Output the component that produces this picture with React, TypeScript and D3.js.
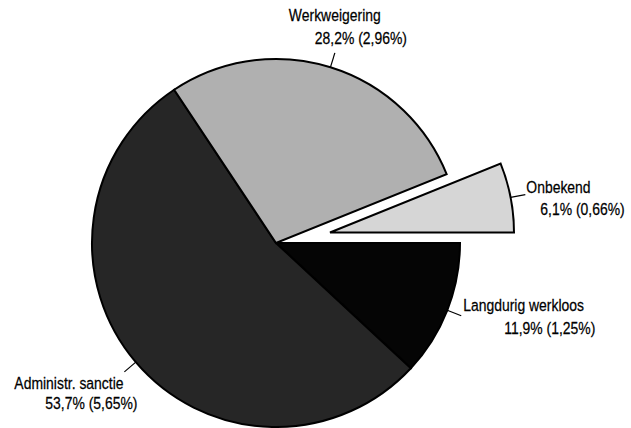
import * as d3 from 'd3';
import { useEffect } from 'react';

// categories, clockwise from 3 o'clock
const categories = ['Langdurig werkloos', 'Administr. sanctie', 'Werkweigering', 'Onbekend'];
const shares = [11.9, 53.7, 28.2, 6.1];
const shareLabels = ['11,9% (1,25%)', '53,7% (5,65%)', '28,2% (2,96%)', '6,1% (0,66%)'];

const fills = ['#050505', '#262626', '#b0b0b0', '#d6d6d6'];
const exploded = [0, 0, 0, 55];
// text offsets from the leader end: [dx1, dy1, dx2, dy2]
const labelOffsets = [
    [2, -5, 43, 18],
    [-110, 17, -79, 37],
    [-46, -32, -20, -9],
    [1, -2, 15, 20],
];

const width = 631;
const height = 428;
const cx = 276;
const cy = 243;
const radius = 184;
const leaderLen = 15;
const squeeze = 0.82; // narrow typeface look

function Label(props: { x: number; y: number; text: string }) {
    const { x, y, text } = props;
    return (
        <text transform={`translate(${x},${y}) scale(${squeeze},1)`} fill="#000"
            stroke="#000" strokeWidth={0.25}>{text}</text>
    );
}

function App() {
    useEffect(() => {
        document.body.style.margin = '0';
    }, []);

    const pie = d3.pie<number>()
        .sort(null)
        .startAngle(Math.PI / 2)
        .endAngle(Math.PI / 2 + Math.PI * 2)(shares);

    const arc = d3.arc<d3.PieArcDatum<number>>()
        .innerRadius(0)
        .outerRadius(radius);

    return (
        <svg width={width} height={height} style={{ display: 'block' }}
            fontFamily='"Liberation Sans", Arial, sans-serif' fontSize={17}>
            <rect width={width} height={height} fill="#fff" />
            <g transform={`translate(${cx},${cy})`}>
                {pie.map((d, i) => {
                    const mid = (d.startAngle + d.endAngle) / 2;
                    const ox = Math.sin(mid) * exploded[i];
                    const oy = -Math.cos(mid) * exploded[i];
                    const x1 = ox + Math.sin(mid) * radius;
                    const y1 = oy - Math.cos(mid) * radius;
                    const x2 = ox + Math.sin(mid) * (radius + leaderLen);
                    const y2 = oy - Math.cos(mid) * (radius + leaderLen);
                    const off = labelOffsets[i];
                    return (
                        <g key={categories[i]}>
                            <path
                                d={arc(d) ?? ''}
                                transform={`translate(${ox},${oy})`}
                                fill={fills[i]}
                                stroke="#000"
                                strokeWidth={2}
                            />
                            <line x1={x1} y1={y1} x2={x2} y2={y2} stroke="#000" strokeWidth={1.2} />
                            <Label x={x2 + off[0]} y={y2 + off[1]} text={categories[i]} />
                            <Label x={x2 + off[2]} y={y2 + off[3]} text={shareLabels[i]} />
                        </g>
                    );
                })}
            </g>
        </svg>
    );
}

export default App;
